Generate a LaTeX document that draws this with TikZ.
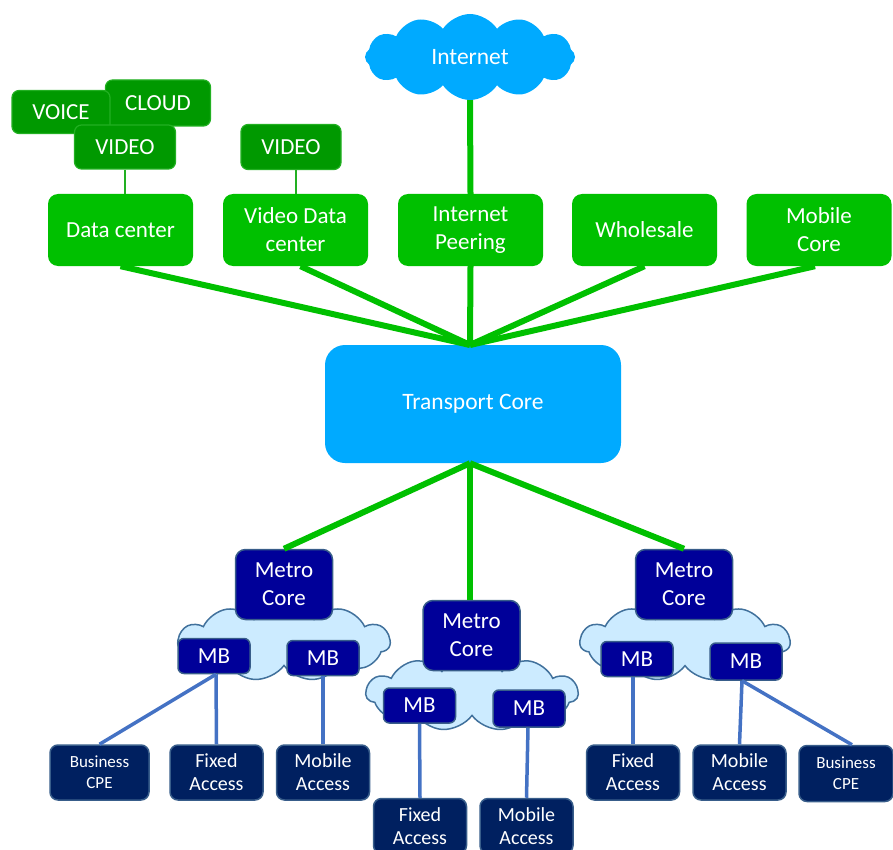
\documentclass[tikz,border=0pt]{standalone}
\usepackage{fontspec}
\setmainfont{Carlito}
\usetikzlibrary{shapes.symbols}
\definecolor{bgreen}{HTML}{00C000}
\definecolor{dgreen}{HTML}{009900}
\definecolor{dgreenb}{HTML}{22B022}
\definecolor{tblue}{HTML}{00AAFF}
\definecolor{mnavy}{HTML}{000099}
\definecolor{mborder}{HTML}{385D8A}
\definecolor{bnavy}{HTML}{002060}
\definecolor{lblue}{HTML}{CCEBFF}
\definecolor{lbord}{HTML}{41719C}
\definecolor{lineblue}{HTML}{4472C4}
\tikzset{
  base/.style={align=center,text=white,inner sep=0pt},
  topbox/.style={base,fill=bgreen,rounded corners=10pt,minimum width=145pt,minimum height=72pt,font=\fontsize{23}{28}\selectfont},
  svcbox/.style={base,fill=dgreen,draw=dgreenb,line width=1.2pt,rounded corners=7pt,font=\fontsize{23}{26}\selectfont},
  metrobox/.style={base,fill=mnavy,draw=mborder,line width=1.5pt,rounded corners=10pt,minimum width=97pt,minimum height=70pt,font=\fontsize{23}{28}\selectfont},
  mbbox/.style={base,fill=mnavy,draw=mborder,line width=1.5pt,rounded corners=6pt,minimum width=72pt,minimum height=35pt,font=\fontsize{23}{26}\selectfont},
  leafbox/.style={base,fill=bnavy,draw=mborder,line width=1.5pt,rounded corners=8pt,minimum width=93pt,minimum height=55pt,font=\fontsize{20}{23}\selectfont},
  bizbox/.style={leafbox,font=\fontsize{17}{21}\selectfont},
  lcloud/.style={cloud,cloud puffs=11,cloud puff arc=115,aspect=2.7,fill=lblue,draw=lbord,line width=1.5pt,inner sep=0pt},
  gline/.style={draw=bgreen,line width=6pt},
  thinline/.style={draw=dgreenb,line width=2pt},
  bline/.style={draw=lineblue,line width=3.5pt},
}
\begin{document}
\begin{tikzpicture}[x=1pt,y=-1pt]
\useasboundingbox (0,0) rectangle (893,850);
% clouds
\node[cloud,cloud puffs=12,cloud puff arc=115,aspect=2.4,fill=tblue,inner sep=0pt,minimum width=210pt,minimum height=86pt,text=white,font=\fontsize{23.5}{26}\selectfont] (inet) at (470,57) {Internet};
\node[lcloud,minimum width=212pt,minimum height=78pt] (c1) at (284,642) {};
\node[lcloud,minimum width=212pt,minimum height=76pt] (c2) at (472,693) {};
\node[lcloud,minimum width=210pt,minimum height=78pt] (c3) at (685,642) {};
% service boxes
\node[svcbox,minimum width=105pt,minimum height=46pt] (cloud) at (158,103) {CLOUD};
\node[svcbox,minimum width=98pt,minimum height=43pt] (voice) at (61,112) {VOICE};
\node[svcbox,minimum width=101pt,minimum height=44pt] (video1) at (125,147) {VIDEO};
\node[svcbox,minimum width=100pt,minimum height=45pt] (video2) at (291,147) {VIDEO};
% top boxes
\node[topbox] (dc) at (120.5,230) {Data center};
\node[topbox] (vdc) at (295.5,230) {Video Data\\center};
\node[topbox] (ip) at (470.5,230) {Internet\\Peering};
\node[topbox] (ws) at (644.5,230) {Wholesale};
\node[topbox] (mc) at (819,230) {Mobile\\Core};
% transport core
\node[base,fill=tblue,rounded corners=20pt,minimum width=296pt,minimum height=118pt,font=\fontsize{23.5}{26}\selectfont] (tc) at (473,404) {Transport Core};
\coordinate (hub) at (470,345);
% metro cores
\node[metrobox] (m1) at (284,584.5) {Metro\\Core};
\node[metrobox] (m2) at (471.5,635.5) {Metro\\Core};
\node[metrobox] (m3) at (684,584.5) {Metro\\Core};
% MBs
\node[mbbox] (mb1) at (214,656) {MB};
\node[mbbox] (mb2) at (323,658) {MB};
\node[mbbox] (mb3) at (419.5,705.5) {MB};
\node[mbbox,minimum height=37pt] (mb4) at (529,708.5) {MB};
\node[mbbox] (mb5) at (637,659) {MB};
\node[mbbox,minimum height=37pt] (mb6) at (746,661.5) {MB};
% leaves
\node[bizbox,minimum width=99pt] (b1) at (99.5,772.5) {Business\\CPE};
\node[leafbox] (f1) at (216.5,772.5) {Fixed\\Access};
\node[leafbox] (mo1) at (323,772.5) {Mobile\\Access};
\node[leafbox] (f2) at (420,826) {Fixed\\Access};
\node[leafbox] (mo2) at (526.5,826) {Mobile\\Access};
\node[leafbox] (f3) at (633,772.5) {Fixed\\Access};
\node[leafbox] (mo3) at (739.5,772.5) {Mobile\\Access};
\node[bizbox,minimum width=94pt,minimum height=56pt] (b2) at (846,773.5) {Business\\CPE};
% green connectors
\draw[thinline] (video1.south) -- (video1.south |- dc.north);
\draw[thinline] (vdc.north |- video2.south) -- (vdc.north);
\draw[gline] (inet.south) -- (ip.north);
\draw[gline] (dc.south) -- (hub);
\draw[gline] ([xshift=5pt]vdc.south) -- (hub);
\draw[gline] (ip.south) -- (hub);
\draw[gline] (ws.south) -- (hub);
\draw[gline] ([xshift=-4pt]mc.south) -- (hub);
\draw[gline] ([xshift=-3pt]tc.south) -- (m1.north);
\draw[gline] ([xshift=-3pt]tc.south) -- ([xshift=-1.5pt]m2.north);
\draw[gline] ([xshift=-3pt]tc.south) -- (m3.north);
% blue connectors
\draw[bline] ([xshift=2pt]mb1.south) -- (b1.north);
\draw[bline] ([xshift=2pt]mb1.south) -- (f1.north);
\draw[bline] (mb2.south) -- (mo1.north);
\draw[bline] (mb3.south) -- (f2.north);
\draw[bline] ([xshift=-1pt]mb4.south) -- (mo2.north);
\draw[bline] ([xshift=-4pt]mb5.south) -- (f3.north);
\draw[bline] ([xshift=-4pt]mb6.south) -- (mo3.north);
\draw[bline] ([xshift=-4pt]mb6.south) -- ([xshift=6pt]b2.north);
\end{tikzpicture}
\end{document}
